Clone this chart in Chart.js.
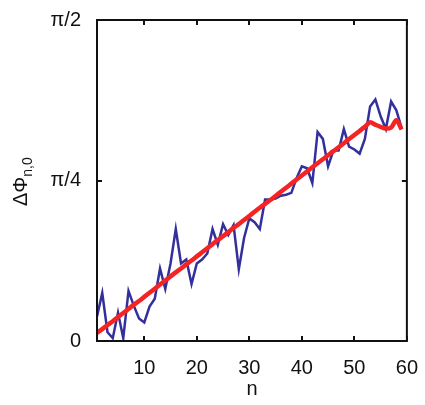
<!DOCTYPE html>
<html>
<head>
<meta charset="utf-8">
<script src="https://cdn.jsdelivr.net/npm/chart.js@4.4.0/dist/chart.umd.min.js"></script>
<style>
  html, body { margin: 0; padding: 0; background: #fff; }
  #wrap { width: 425px; height: 405px; }
</style>
</head>
<body>
<div id="wrap"><canvas id="grafico"></canvas></div>
<script>
// dados
const nValues = [1,2,3,4,5,6,7,8,9,10,11,12,13,14,15,16,17,18,19,20,21,22,23,24,25,26,27,28,29,30,
                 31,32,33,34,35,36,37,38,39,40,41,42,43,44,45,46,47,48,49,50,51,52,53,54,55,56,57,58,59];
const phaseMeasured = [0.120,0.235,0.043,0.014,0.139,0.014,0.245,0.173,0.110,0.091,
                       0.168,0.207,0.355,0.255,0.379,0.548,0.379,0.399,0.279,0.379,
                       0.399,0.428,0.548,0.471,0.572,0.519,0.567,0.351,0.504,0.600,
                       0.581,0.548,0.692,0.692,0.697,0.711,0.716,0.725,0.797,0.855,
                       0.845,0.773,1.023,0.989,0.855,0.932,0.932,1.037,0.951,0.937,
                       0.917,0.989,1.148,1.182,1.100,1.037,1.172,1.129,1.042];
const phaseSmooth = [0.040,0.058,0.078,0.097,0.117,0.137,0.157,0.177,0.196,0.216,
                     0.236,0.256,0.276,0.296,0.316,0.336,0.355,0.375,0.394,0.414,
                     0.434,0.454,0.474,0.494,0.513,0.533,0.553,0.572,0.592,0.612,
                     0.632,0.652,0.671,0.690,0.710,0.730,0.750,0.770,0.790,0.810,
                     0.830,0.850,0.870,0.889,0.909,0.929,0.948,0.968,0.988,1.008,
                     1.028,1.048,1.070,1.058,1.048,1.040,1.045,1.080,1.035];
const xTicks = [10, 20, 30, 40, 50, 60];
const yTicks = [0, Math.PI / 4, Math.PI / 2];
const yTickLabels = ['0', 'π/4', 'π/2'];

const AZUL = '#33309c';
const VERMELHO = '#f42424';
const FONTE = '"Liberation Sans", Arial, sans-serif';

// caixa, marcas internas e títulos dos eixos
const molduraPlugin = {
    id: 'moldura',
    afterDraw(chart) {
        const { ctx, chartArea: a, scales } = chart;
        ctx.save();
        ctx.strokeStyle = '#111';
        ctx.lineWidth = 2;
        ctx.strokeRect(a.left, a.top, a.right - a.left, a.bottom - a.top);

        const len = 5;
        ctx.beginPath();
        xTicks.forEach(v => {
            const px = Math.round(scales.x.getPixelForValue(v));
            ctx.moveTo(px, a.bottom); ctx.lineTo(px, a.bottom - len);
            ctx.moveTo(px, a.top); ctx.lineTo(px, a.top + len);
        });
        yTicks.forEach(v => {
            const py = Math.round(scales.y.getPixelForValue(v));
            ctx.moveTo(a.left, py); ctx.lineTo(a.left + len, py);
            ctx.moveTo(a.right, py); ctx.lineTo(a.right - len, py);
        });
        ctx.stroke();

        // título x
        ctx.fillStyle = '#111';
        ctx.font = '20px ' + FONTE;
        ctx.textAlign = 'center';
        ctx.textBaseline = 'middle';
        ctx.fillText('n', 252, 389);

        // título y (rotacionado, com subscrito)
        ctx.translate(27, 206);
        ctx.rotate(-Math.PI / 2);
        ctx.textAlign = 'left';
        ctx.textBaseline = 'alphabetic';
        ctx.font = '20px ' + FONTE;
        ctx.fillText('ΔΦ', 0, 0);
        const w = ctx.measureText('ΔΦ').width;
        ctx.font = '14px ' + FONTE;
        ctx.fillText('n,0', w, 5);
        ctx.restore();
    }
};

const ctxGrafico = document.getElementById('grafico');
new Chart(ctxGrafico, {
    type: 'line',
    data: {
        datasets: [{
            data: nValues.map((n, i) => ({ x: n, y: phaseMeasured[i] })),
            borderColor: AZUL,
            borderWidth: 2.5,
            pointRadius: 0,
            tension: 0,
            order: 2
        }, {
            data: nValues.map((n, i) => ({ x: n, y: phaseSmooth[i] })),
            borderColor: VERMELHO,
            borderWidth: 4.5,
            pointRadius: 0,
            tension: 0.3,
            order: 1
        }]
    },
    options: {
        responsive: true,
        maintainAspectRatio: false,
        animation: false,
        layout: { padding: { top: 14, right: 10, left: 0, bottom: 0 } },
        plugins: { legend: { display: false }, tooltip: { enabled: false } },
        scales: {
            x: {
                type: 'linear',
                min: 1,
                max: 60,
                grid: { display: false },
                border: { display: false },
                afterBuildTicks: s => { s.ticks = xTicks.map(v => ({ value: v })); },
                afterFit: s => { s.height = 64; },
                ticks: {
                    padding: 7,
                    maxRotation: 0,
                    color: '#111',
                    font: { family: FONTE, size: 20 }
                }
            },
            y: {
                min: 0,
                max: Math.PI / 2,
                grid: { display: false },
                border: { display: false },
                afterBuildTicks: s => { s.ticks = yTicks.map(v => ({ value: v })); },
                afterFit: s => { s.width = 97; },
                ticks: {
                    padding: 8,
                    color: '#111',
                    font: { family: FONTE, size: 20 },
                    callback: (v) => {
                        const i = yTicks.findIndex(t => Math.abs(t - v) < 1e-9);
                        return i >= 0 ? yTickLabels[i] : '';
                    }
                }
            }
        }
    },
    plugins: [molduraPlugin]
});
</script>
</body>
</html>
